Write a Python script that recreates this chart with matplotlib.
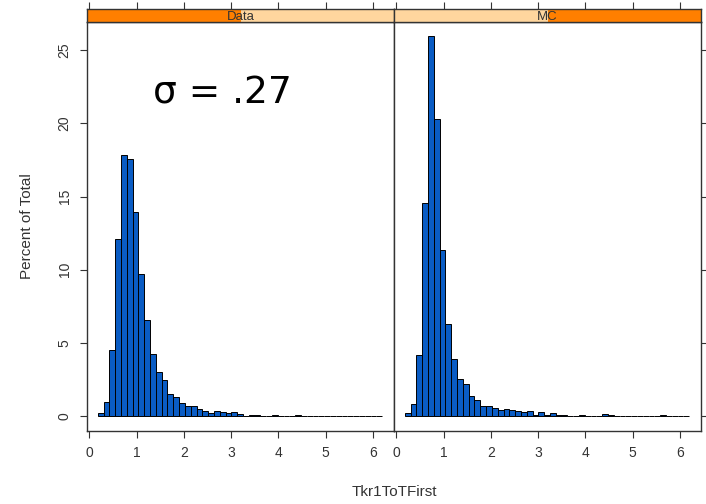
import numpy as np
import matplotlib
matplotlib.use("Agg")
import matplotlib.pyplot as plt
from matplotlib.patches import Rectangle

plt.rcParams['font.family'] = ['Liberation Sans', 'DejaVu Sans']

# histogram bins shared by both panels
bin_lo, bin_hi, n_bins = 0.18, 6.2, 49
edges = np.linspace(bin_lo, bin_hi, n_bins + 1)

panels = ["Data", "MC"]

# percent of total per bin
data_pct = [0.16, 0.94, 4.47, 12.09, 17.84, 17.55, 13.94, 9.68, 6.58, 4.2,
            2.98, 2.48, 1.51, 1.31, 0.85, 0.67, 0.64, 0.46, 0.3, 0.16,
            0.3, 0.23, 0.16, 0.23, 0.1, 0, 0.07, 0.07, 0, 0,
            0.07, 0, 0, 0, 0.07, 0, 0, 0, 0, 0,
            0, 0, 0, 0, 0, 0, 0, 0, 0]
mc_pct = [0.16, 0.8, 4.18, 14.59, 25.96, 20.27, 11.37, 6.28, 3.9, 2.53,
          2.19, 1.37, 1.1, 0.68, 0.66, 0.5, 0.39, 0.46, 0.39, 0.3,
          0.25, 0.3, 0.07, 0.23, 0.05, 0.2, 0.05, 0.03, 0, 0,
          0.08, 0, 0, 0, 0.12, 0.05, 0, 0, 0, 0,
          0, 0, 0, 0, 0.08, 0, 0, 0, 0]
series = [data_pct, mc_pct]

x_ticks = [0, 1, 2, 3, 4, 5, 6]
y_ticks = [0, 5, 10, 15, 20, 25]

bar_col = '#0a5cc4'
orange = '#ff7f00'
peach = '#ffd69e'
frame_col = '#333333'

fig = plt.figure(figsize=(7.06, 5.04), dpi=100)
W, H = 706, 504

def fx(px):
    return px / W

def fy(py):
    return 1 - py / H

left_px = [87, 394]
pw = 307
top_px, bot_px = 22, 431
strip_top = 9

for i, name in enumerate(panels):
    ax = fig.add_axes([fx(left_px[i]), fy(bot_px), fx(pw), fy(top_px) - fy(bot_px)])
    ax.bar(edges[:-1], series[i], width=np.diff(edges), align='edge',
           color=bar_col, edgecolor='black', linewidth=0.7)
    ax.set_xlim(-0.05, 6.45)
    ax.set_ylim(-1.04, 26.94)
    for s in ax.spines.values():
        s.set_color(frame_col)
        s.set_linewidth(1.0)
    ax.set_xticks(x_ticks)
    ax.tick_params(axis='x', direction='out', length=5, width=0.8, color=frame_col,
                   labelsize=10, pad=6, labelcolor='#333333')
    ax.set_yticks(y_ticks)
    if i == 0:
        ax.set_yticklabels([str(v) for v in y_ticks], rotation=90, va='center')
        ax.tick_params(axis='y', direction='out', length=5, width=0.8, color=frame_col,
                       labelsize=10, pad=6, labelcolor='#333333')
        ax.set_ylabel("Percent of Total", fontsize=11, color='#333333', labelpad=17)
    else:
        ax.yaxis.tick_right()
        ax.tick_params(axis='y', direction='out', length=5, width=0.8, color=frame_col,
                       labelright=False)

    # strip on top of the panel, orange part marks the level
    sax = fig.add_axes([fx(left_px[i]), fy(top_px), fx(pw), fy(strip_top) - fy(top_px)])
    sax.set_xlim(-0.05, 6.45)
    sax.set_ylim(0, 1)
    sax.add_patch(Rectangle((0, 0), 1, 1, facecolor=peach, edgecolor='none',
                            transform=sax.transAxes))
    sax.add_patch(Rectangle((i * 0.5, 0), 0.5, 1, facecolor=orange, edgecolor='none',
                            transform=sax.transAxes))
    sax.text(0.5, 0.42, name, ha='center', va='center', fontsize=9.5, color='#333333',
             transform=sax.transAxes)
    for s in sax.spines.values():
        s.set_color(frame_col)
        s.set_linewidth(1.0)
    sax.set_xticks(x_ticks)
    sax.xaxis.tick_top()
    sax.tick_params(axis='x', direction='out', length=5, width=0.8, color=frame_col,
                    labeltop=False)
    sax.set_yticks([])

fig.text(fx(394), fy(492), "Tkr1ToTFirst", ha='center', va='center',
         fontsize=11, color='#333333')
fig.text(fx(222), fy(93), "\u03c3 = .27", ha='center', va='center',
         fontsize=27, color='black', family=['DejaVu Sans'])

fig.savefig("out.png", dpi=100)
